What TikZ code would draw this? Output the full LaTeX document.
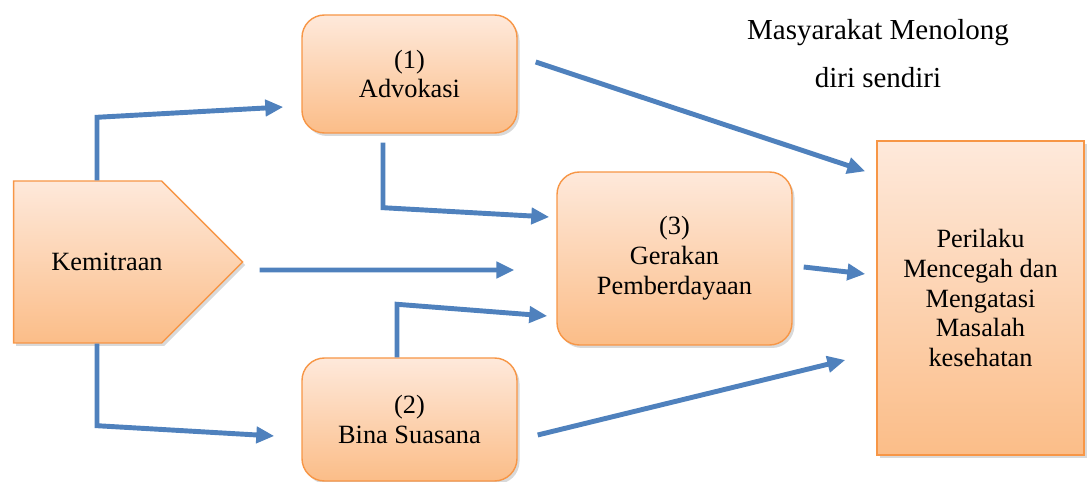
\documentclass[tikz,border=0pt]{standalone}
\usepackage{fontspec}
\setmainfont{Liberation Serif}
\usetikzlibrary{arrows.meta,shapes.symbols,shadows}
\definecolor{boxtop}{HTML}{FEE9DB}
\definecolor{boxbot}{HTML}{FBBD88}
\definecolor{boxline}{HTML}{F79646}
\definecolor{flowblue}{HTML}{4F81BD}

\begin{document}
\begin{tikzpicture}[font=\fontsize{15}{17}\selectfont,
  box/.style={draw=boxline,thick,top color=boxtop,bottom color=boxbot,align=center,
    drop shadow={opacity=.3,shadow xshift=.05cm,shadow yshift=-.06cm}},
  rbox/.style={box,rounded corners=.45cm},
  flow/.style={draw=flowblue,line width=2.8pt,-{Triangle[length=.36cm,width=.32cm]}}]
\useasboundingbox (0,0) rectangle (21.76,9.64);
\node[box,signal,signal to=east,signal pointer angle=90,minimum width=4.58cm,minimum height=3.24cm,anchor=west] (kem) at (.26,4.40) {};
\node (kemtxt) at (2.14,4.40) {Kemitraan};
\node[rbox,minimum width=4.30cm,minimum height=2.36cm] (adv) at (8.19,8.16) {(1)\\Advokasi};
\node[rbox,minimum width=4.30cm,minimum height=2.46cm] (bina) at (8.19,1.25) {(2)\\Bina Suasana};
\node[rbox,minimum width=4.70cm,minimum height=3.46cm] (ger) at (13.49,4.47) {(3)\\Gerakan\\Pemberdayaan};
\node[box,minimum width=4.14cm,minimum height=6.28cm] (per) at (19.61,3.68) {Perilaku\\Mencegah dan\\Mengatasi\\Masalah\\kesehatan};
\node[align=center,font=\fontsize{16.5}{18}\selectfont] (mas) at (17.56,8.57) {Masyarakat Menolong\\[9pt]diri sendiri};
\draw[flow] ([xshift=1.68cm]kem.north west) -- ++(0,1.26) -- ([xshift=-.36cm,yshift=-.66cm]adv.west);
\draw[flow] ([xshift=1.68cm]kem.south west) -- ++(0,-1.64) -- ([xshift=-.54cm,yshift=-.33cm]bina.west);
\draw[flow] ([xshift=.32cm,yshift=-.16cm]kem.east) -- ([xshift=-.84cm,yshift=-.23cm]ger.west);
\draw[flow] ([xshift=-.53cm,yshift=-.18cm]adv.south) -- ++(0,-1.30) -- ([xshift=-.14cm,yshift=.83cm]ger.west);
\draw[flow] ([xshift=-.25cm]bina.north) -- ++(0,1.06) -- ([xshift=-.18cm,yshift=-1.15cm]ger.west);
\draw[flow] ([xshift=.36cm,yshift=.24cm]adv.east) -- ([xshift=-.22cm,yshift=-.62cm]per.north west);
\draw[flow] ([xshift=.22cm,yshift=-.17cm]ger.east) -- ([xshift=-.22cm,yshift=.48cm]per.west);
\draw[flow] ([xshift=.40cm,yshift=-.31cm]bina.east) -- ([xshift=-.62cm,yshift=-1.24cm]per.west);
\end{tikzpicture}
\end{document}
